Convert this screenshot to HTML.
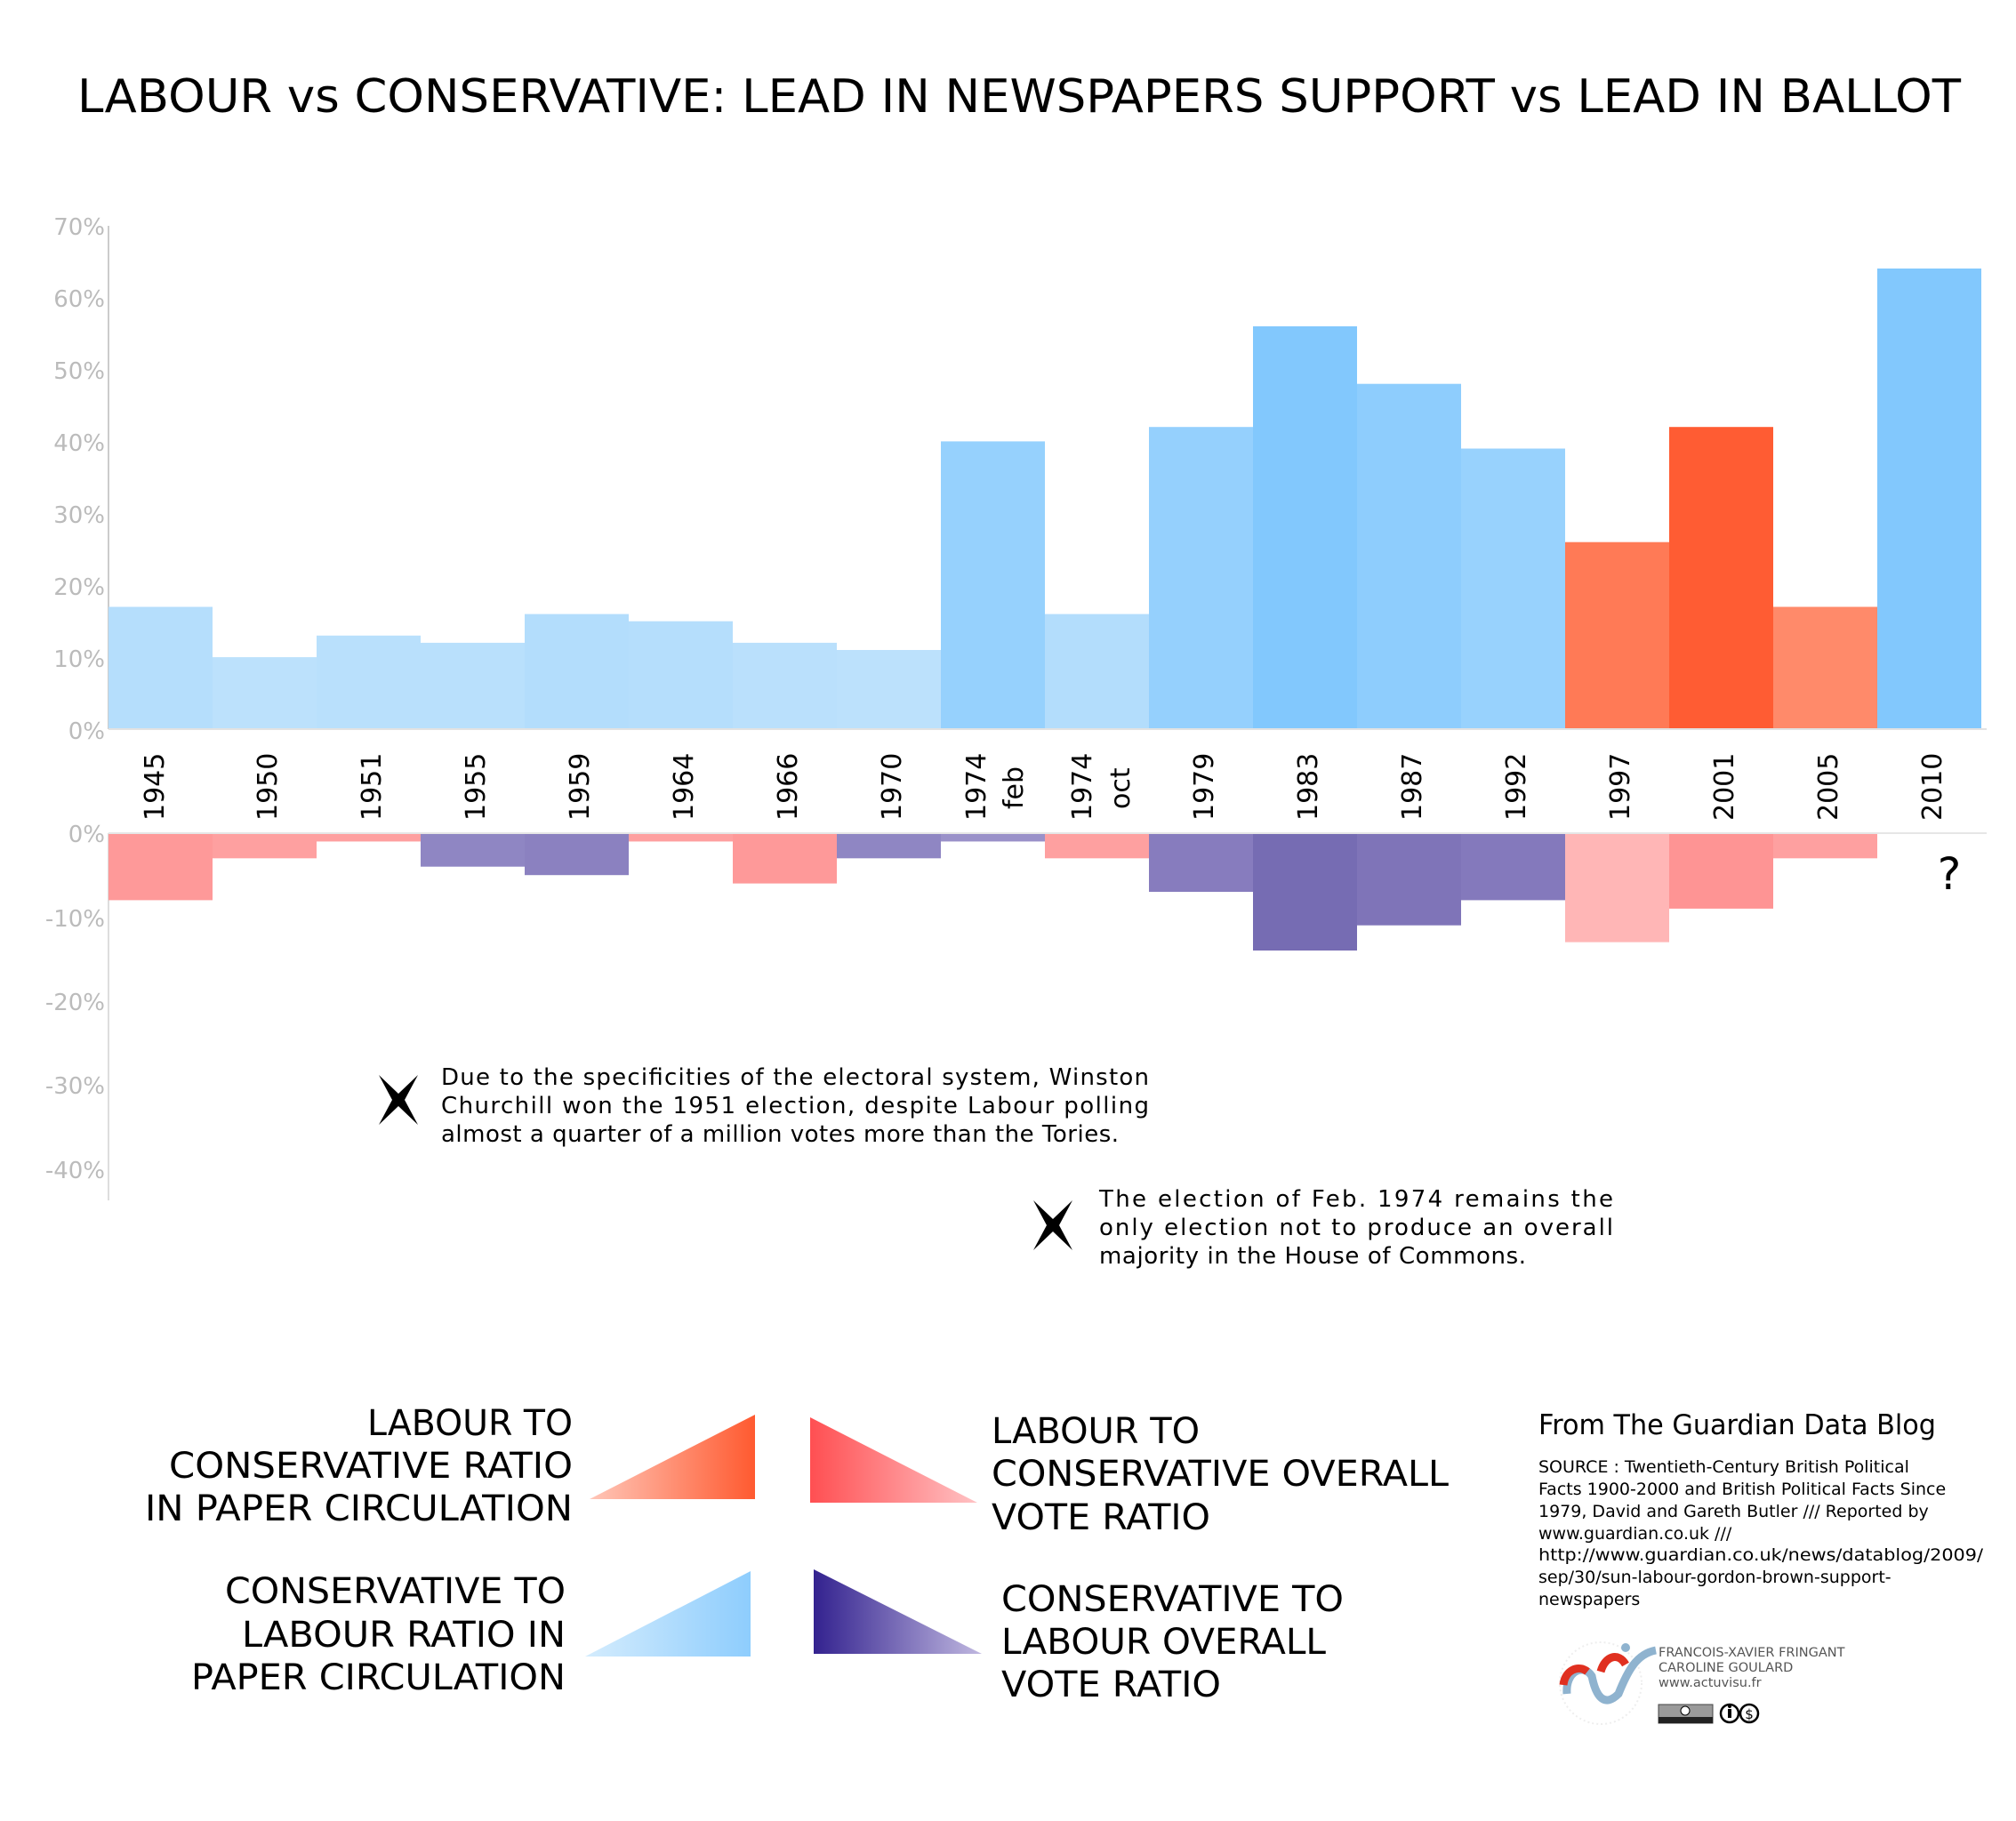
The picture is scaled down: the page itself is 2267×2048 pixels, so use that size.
<!DOCTYPE html>
<html><head><meta charset="utf-8"><style>
html,body{margin:0;padding:0;background:#fff;}
svg{display:block;}
text{font-family:"DejaVu Sans","Liberation Sans",sans-serif;}
</style></head><body>
<svg width="2267" height="2048" viewBox="0 0 2267 2048" xmlns="http://www.w3.org/2000/svg">
<defs>
<linearGradient id="g1" x1="0" x2="1" y1="0" y2="0"><stop offset="0" stop-color="#ffc6b8"/><stop offset="1" stop-color="#ff5a30"/></linearGradient>
<linearGradient id="g2" x1="0" x2="1" y1="0" y2="0"><stop offset="0" stop-color="#ff4f52"/><stop offset="1" stop-color="#ffc2c4"/></linearGradient>
<linearGradient id="g3" x1="0" x2="1" y1="0" y2="0"><stop offset="0" stop-color="#d4ecfd"/><stop offset="1" stop-color="#8ecdfd"/></linearGradient>
<linearGradient id="g4" x1="0" x2="1" y1="0" y2="0"><stop offset="0" stop-color="#33228f"/><stop offset="1" stop-color="#c0b8e0"/></linearGradient>
</defs>

<text x="87" y="126" font-size="52" textLength="2118" lengthAdjust="spacingAndGlyphs" fill="#000">LABOUR vs CONSERVATIVE: LEAD IN NEWSPAPERS SUPPORT vs LEAD IN BALLOT</text>

<g font-size="26" fill="#bbb" text-anchor="end">
<text x="118" y="264">70%</text><text x="118" y="345">60%</text><text x="118" y="426">50%</text><text x="118" y="507">40%</text><text x="118" y="588">30%</text><text x="118" y="669">20%</text><text x="118" y="750">10%</text><text x="118" y="831">0%</text>
<text x="118" y="947">0%</text><text x="118" y="1042">-10%</text><text x="118" y="1136">-20%</text><text x="118" y="1230">-30%</text><text x="118" y="1325">-40%</text>
</g>
<line x1="122" y1="254" x2="122" y2="820" stroke="#ccc" stroke-width="2"/>
<line x1="122" y1="937" x2="122" y2="1350" stroke="#ddd" stroke-width="2"/>

<g>
<rect x="122" y="682.5" width="117" height="137.5" fill="#b5defc"/>
<rect x="239" y="739.1" width="117" height="80.9" fill="#bce1fc"/>
<rect x="356" y="714.8" width="117" height="105.2" fill="#b9e0fc"/>
<rect x="473" y="722.9" width="117" height="97.1" fill="#b9e0fc"/>
<rect x="590" y="690.6" width="117" height="129.4" fill="#b3ddfc"/>
<rect x="707" y="698.7" width="117" height="121.3" fill="#b5defc"/>
<rect x="824" y="722.9" width="117" height="97.1" fill="#bae0fc"/>
<rect x="941" y="731" width="117" height="89" fill="#bce1fc"/>
<rect x="1058" y="496.4" width="117" height="323.6" fill="#96d1fd"/>
<rect x="1175" y="690.6" width="117" height="129.4" fill="#b3ddfc"/>
<rect x="1292" y="480.2" width="117" height="339.8" fill="#95d0fd"/>
<rect x="1409" y="367" width="117" height="453" fill="#82c8fd"/>
<rect x="1526" y="431.7" width="117" height="388.3" fill="#8ecdfd"/>
<rect x="1643" y="504.5" width="117" height="315.5" fill="#98d2fd"/>
<rect x="1760" y="609.7" width="117" height="210.3" fill="#ff7a56"/>
<rect x="1877" y="480.2" width="117" height="339.8" fill="#ff5c33"/>
<rect x="1994" y="682.5" width="117" height="137.5" fill="#ff8a6a"/>
<rect x="2111" y="302" width="117" height="518" fill="#82c8fd"/>
</g>
<line x1="122" y1="820" x2="2234" y2="820" stroke="#e2e2e2" stroke-width="2"/>

<g>
<rect x="122" y="937" width="117" height="75.4" fill="#fe9999"/>
<rect x="239" y="937" width="117" height="28.3" fill="#fea0a0"/>
<rect x="356" y="937" width="117" height="9.4" fill="#fea0a0"/>
<rect x="473" y="937" width="117" height="37.7" fill="#8f86c3"/>
<rect x="590" y="937" width="117" height="47.2" fill="#8b81c0"/>
<rect x="707" y="937" width="117" height="9.4" fill="#fea0a0"/>
<rect x="824" y="937" width="117" height="56.6" fill="#fe9999"/>
<rect x="941" y="937" width="117" height="28.3" fill="#8f86c3"/>
<rect x="1058" y="937" width="117" height="9.4" fill="#9a91c9"/>
<rect x="1175" y="937" width="117" height="28.3" fill="#fea0a0"/>
<rect x="1292" y="937" width="117" height="66" fill="#877cbe"/>
<rect x="1409" y="937" width="117" height="132" fill="#766cb3"/>
<rect x="1526" y="937" width="117" height="103.7" fill="#7f74b8"/>
<rect x="1643" y="937" width="117" height="75.4" fill="#8479bc"/>
<rect x="1760" y="937" width="117" height="122.6" fill="#ffb6b6"/>
<rect x="1877" y="937" width="117" height="84.9" fill="#fe9494"/>
<rect x="1994" y="937" width="117" height="28.3" fill="#fea0a0"/>
</g>
<line x1="122" y1="937" x2="2234" y2="937" stroke="#e6e6e6" stroke-width="2"/>
<text x="2192" y="1000" font-size="50" text-anchor="middle" fill="#000">?</text>

<g font-size="30" fill="#000" text-anchor="start">
<text transform="translate(184,923) rotate(-90)">1945</text>
<text transform="translate(311,923) rotate(-90)">1950</text>
<text transform="translate(428,923) rotate(-90)">1951</text>
<text transform="translate(545,923) rotate(-90)">1955</text>
<text transform="translate(662,923) rotate(-90)">1959</text>
<text transform="translate(779,923) rotate(-90)">1964</text>
<text transform="translate(896,923) rotate(-90)">1966</text>
<text transform="translate(1013,923) rotate(-90)">1970</text>
<text transform="translate(1108,923) rotate(-90)">1974</text>
<text transform="translate(1150,910) rotate(-90)">feb</text>
<text transform="translate(1227,923) rotate(-90)">1974</text>
<text transform="translate(1270,910) rotate(-90)">oct</text>
<text transform="translate(1364,923) rotate(-90)">1979</text>
<text transform="translate(1481,923) rotate(-90)">1983</text>
<text transform="translate(1598,923) rotate(-90)">1987</text>
<text transform="translate(1715,923) rotate(-90)">1992</text>
<text transform="translate(1832,923) rotate(-90)">1997</text>
<text transform="translate(1949,923) rotate(-90)">2001</text>
<text transform="translate(2066,923) rotate(-90)">2005</text>
<text transform="translate(2183,923) rotate(-90)">2010</text>
</g>

<g transform="translate(448,1237)"><path d="M-22,-28 L0,-7 L22,-28 L7,0 L22,28 L0,7 L-22,28 L-7,0 Z" fill="#000"/></g>
<g font-size="26" fill="#000">
<text x="496" y="1220" textLength="796" lengthAdjust="spacing">Due to the specificities of the electoral system, Winston</text>
<text x="496" y="1252" textLength="796" lengthAdjust="spacing">Churchill won the 1951 election, despite Labour polling</text>
<text x="496" y="1284" textLength="762" lengthAdjust="spacing">almost a quarter of a million votes more than the Tories.</text>
</g>
<g transform="translate(1184,1378)"><path d="M-22,-28 L0,-7 L22,-28 L7,0 L22,28 L0,7 L-22,28 L-7,0 Z" fill="#000"/></g>
<g font-size="26" fill="#000">
<text x="1236" y="1357" textLength="578" lengthAdjust="spacing">The election of Feb. 1974 remains the</text>
<text x="1236" y="1389" textLength="578" lengthAdjust="spacing">only election not to produce an overall</text>
<text x="1236" y="1421" textLength="480" lengthAdjust="spacing">majority in the House of Commons.</text>
</g>

<polygon points="663,1686 849,1591 849,1686" fill="url(#g1)"/>
<polygon points="911,1594 911,1690 1099,1690" fill="url(#g2)"/>
<polygon points="658,1863 844,1767 844,1863" fill="url(#g3)"/>
<polygon points="915,1765 915,1860 1104,1860" fill="url(#g4)"/>
<g font-size="40" fill="#000">
<text x="413" y="1614" textLength="231" lengthAdjust="spacingAndGlyphs">LABOUR TO</text>
<text x="190" y="1662" textLength="454" lengthAdjust="spacingAndGlyphs">CONSERVATIVE RATIO</text>
<text x="163" y="1710" textLength="481" lengthAdjust="spacingAndGlyphs">IN PAPER CIRCULATION</text>
<text x="1115" y="1623" textLength="234" lengthAdjust="spacingAndGlyphs">LABOUR TO</text>
<text x="1115" y="1671" textLength="514" lengthAdjust="spacingAndGlyphs">CONSERVATIVE OVERALL</text>
<text x="1115" y="1720" textLength="246" lengthAdjust="spacingAndGlyphs">VOTE RATIO</text>
<text x="253" y="1803" textLength="383" lengthAdjust="spacingAndGlyphs">CONSERVATIVE TO</text>
<text x="272" y="1852" textLength="364" lengthAdjust="spacingAndGlyphs">LABOUR RATIO IN</text>
<text x="215" y="1900" textLength="421" lengthAdjust="spacingAndGlyphs">PAPER CIRCULATION</text>
<text x="1126" y="1812" textLength="385" lengthAdjust="spacingAndGlyphs">CONSERVATIVE TO</text>
<text x="1126" y="1860" textLength="365" lengthAdjust="spacingAndGlyphs">LABOUR OVERALL</text>
<text x="1126" y="1908" textLength="247" lengthAdjust="spacingAndGlyphs">VOTE RATIO</text>
</g>

<text x="1730" y="1613" font-size="31" fill="#000" textLength="447" lengthAdjust="spacingAndGlyphs">From The Guardian Data Blog</text>
<g font-size="19" fill="#000">
<text x="1730" y="1656">SOURCE : Twentieth-Century British Political</text>
<text x="1730" y="1681">Facts 1900-2000 and British Political Facts Since</text>
<text x="1730" y="1706">1979, David and Gareth Butler /// Reported by</text>
<text x="1730" y="1731">www.guardian.co.uk  ///</text>
<text x="1730" y="1755" textLength="500" lengthAdjust="spacingAndGlyphs">http://www.guardian.co.uk/news/datablog/2009/</text>
<text x="1730" y="1780">sep/30/sun-labour-gordon-brown-support-</text>
<text x="1730" y="1805">newspapers</text>
</g>

<circle cx="1800" cy="1893" r="46" fill="none" stroke="#eee" stroke-width="2" stroke-dasharray="2,3"/>
<path d="M1762,1905 C1760,1880 1780,1870 1790,1885 C1795,1910 1805,1920 1820,1905 C1830,1880 1840,1860 1862,1856" fill="none" stroke="#8fb3cf" stroke-width="9"/>
<path d="M1758,1895 C1760,1878 1775,1872 1785,1880" fill="none" stroke="#e03020" stroke-width="9"/>
<path d="M1800,1880 C1805,1862 1820,1858 1828,1872" fill="none" stroke="#e03020" stroke-width="9"/>
<circle cx="1828" cy="1853" r="5" fill="#8fb3cf"/>
<g font-size="14.5" fill="#555">
<text x="1865" y="1863">FRANCOIS-XAVIER FRINGANT</text>
<text x="1865" y="1880">CAROLINE GOULARD</text>
<text x="1865" y="1897">www.actuvisu.fr</text>
</g>
<rect x="1865" y="1917" width="61" height="21" fill="#9a9a9a" stroke="#444" stroke-width="1"/>
<rect x="1865" y="1931" width="61" height="7" fill="#222"/>
<circle cx="1895" cy="1924" r="5" fill="#fff" stroke="#000" stroke-width="1"/>
<circle cx="1945" cy="1927" r="10" fill="#fff" stroke="#000" stroke-width="2.5"/>
<rect x="1943" y="1922" width="4" height="10" fill="#000"/><circle cx="1945" cy="1919" r="2" fill="#000"/>
<circle cx="1967" cy="1927" r="10" fill="#fff" stroke="#000" stroke-width="2.5"/>
<text x="1967" y="1933" font-size="15" text-anchor="middle" fill="#000">$</text>
</svg>
</body></html>
